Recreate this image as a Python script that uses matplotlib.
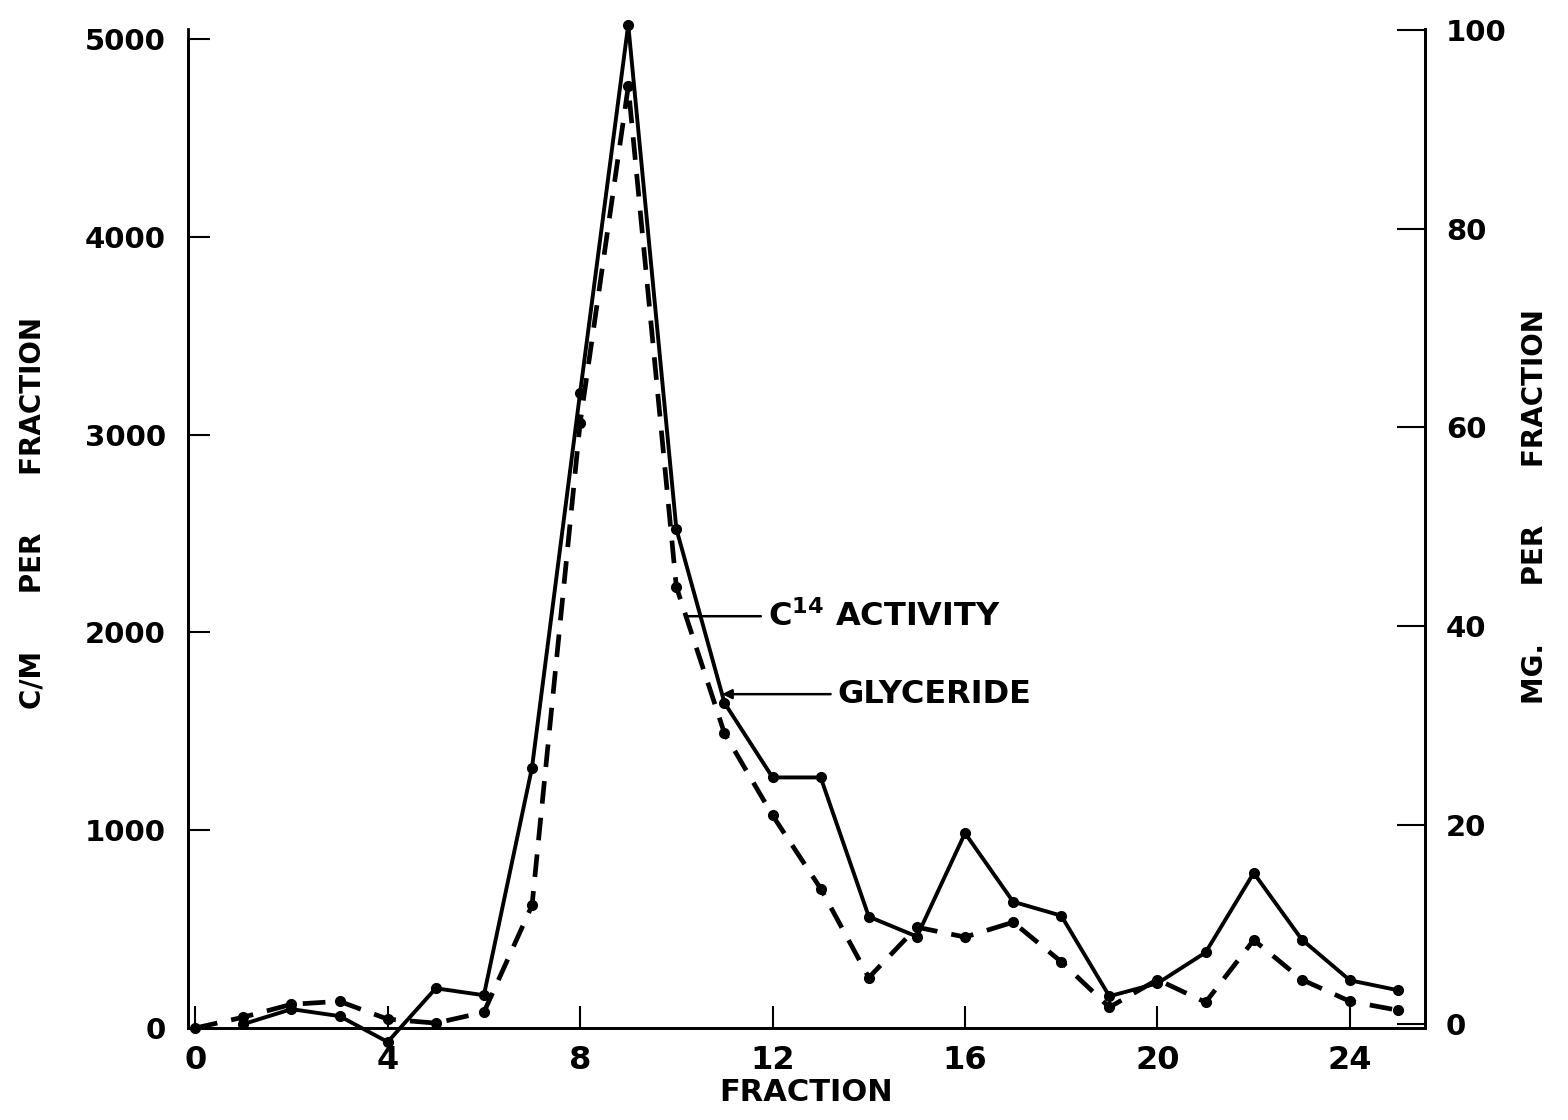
import numpy as np
import matplotlib
matplotlib.use("Agg")
import matplotlib.pyplot as plt

# Fractions collected from the column
fraction_c14 = list(range(0, 26))
fraction_gly = list(range(1, 26))

# C14 activity, counts per minute per fraction (left axis)
c14_activity = [0, 55, 120, 135, 45, 25, 80, 620, 3060, 4760, 2230, 1490,
                1075, 705, 255, 510, 460, 535, 335, 105, 245, 130, 445, 245,
                135, 90]

# Glyceride, mg per fraction (right axis)
glyceride_mg = [0.0, 1.5, 0.8, -1.8, 3.6, 2.9, 25.8, 63.5, 100.5, 49.8, 32.3,
                24.8, 24.8, 10.8, 8.8, 19.2, 12.3, 10.9, 2.8, 4.1, 7.2, 15.2,
                8.5, 4.4, 3.4]

x_ticks = [0, 4, 8, 12, 16, 20, 24]
left_ticks = [0, 1000, 2000, 3000, 4000, 5000]
right_ticks = [0, 20, 40, 60, 80, 100]

FONT = ["DejaVu Sans"]

fig = plt.figure(figsize=(15.68, 11.2), dpi=100)
ax = fig.add_axes([0.1199, 0.0821, 0.7889, 0.8919])
ax2 = ax.twinx()

ax.set_xlim(-0.15, 25.56)
ax.set_ylim(0, 5050)
ax2.set_ylim(-0.4, 100.05)

# C14 activity: dashed line through dots
ax.plot(fraction_c14, c14_activity, color="black", lw=3.4,
        linestyle=(0, (4.8, 3.0)), marker="o", markersize=7,
        clip_on=False, zorder=3)
# Glyceride: solid line through dots
ax2.plot(fraction_gly, glyceride_mg, color="black", lw=2.8,
         linestyle="-", marker="o", markersize=7, clip_on=False, zorder=3)

for a in (ax, ax2):
    a.spines["top"].set_visible(False)
    for s in ("left", "right", "bottom"):
        a.spines[s].set_linewidth(2.0)
ax.spines["left"].set_bounds(0, 5000)

ax.set_xticks(x_ticks)
ax.set_xticklabels([str(t) for t in x_ticks], family=FONT,
                   fontweight="bold", fontsize=23)
ax.set_yticks(left_ticks)
ax.set_yticklabels([str(t) for t in left_ticks], family=FONT,
                   fontweight="bold", fontsize=21)
ax2.set_yticks(right_ticks)
ax2.set_yticklabels([str(t) for t in right_ticks], family=FONT,
                    fontweight="bold", fontsize=21)

ax.tick_params(axis="x", direction="in", length=16, width=1.5, pad=12)
ax.tick_params(axis="y", direction="in", length=16, width=1.5, pad=16)
ax2.tick_params(axis="y", direction="in", length=20, width=1.5, pad=15)

ax.set_xlabel("FRACTION", family=FONT, fontweight="bold", fontsize=22,
              labelpad=2)

fig.text(0.021, 0.542, "C/M      PER      FRACTION", rotation=90,
         ha="center", va="center", family=FONT, fontweight="bold",
         fontsize=20)
fig.text(0.979, 0.548, "MG.      PER      FRACTION", rotation=90,
         ha="center", va="center", family=FONT, fontweight="bold",
         fontsize=20)

# Leader lines naming the two curves
x_c14 = 10.2
y_c14 = np.interp(x_c14, fraction_c14, c14_activity)
ax.annotate(r"C$^{\mathbf{14}}$ ACTIVITY", xy=(x_c14, y_c14),
            xytext=(11.9, y_c14), ha="left", va="center",
            family=FONT, fontweight="bold", fontsize=23,
            arrowprops=dict(arrowstyle="-", color="black", lw=1.8,
                            shrinkA=3, shrinkB=0))

x_gly = 10.95
y_gly = np.interp(x_gly, fraction_gly, glyceride_mg)
ax2.annotate("GLYCERIDE", xy=(x_gly, y_gly), xytext=(13.35, y_gly),
             ha="left", va="center", family=FONT, fontweight="bold",
             fontsize=23,
             arrowprops=dict(arrowstyle="-|>", color="black", lw=1.8,
                             mutation_scale=14, shrinkA=3, shrinkB=0))

fig.savefig("out.png", dpi=100)
